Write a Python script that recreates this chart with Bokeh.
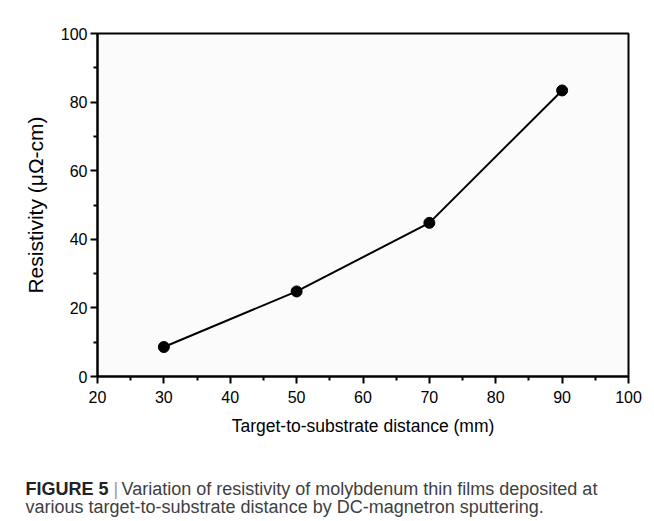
from bokeh.plotting import figure
from bokeh.models import Label, FixedTicker, Range1d
from bokeh.embed import file_html
from bokeh.resources import INLINE

distance = [30, 50, 70, 90]
resistivity = [8.6, 24.8, 44.8, 83.4]
x_ticks = [20, 30, 40, 50, 60, 70, 80, 90, 100]
x_minor = [25, 35, 45, 55, 65, 75, 85, 95]
y_ticks = [0, 20, 40, 60, 80, 100]
y_minor = [10, 30, 50, 70, 90]
caption_head = "FIGURE 5"
caption_line1 = "Variation of resistivity of molybdenum thin films deposited at"
caption_line2 = "various target-to-substrate distance by DC-magnetron sputtering."

W, H = 654, 521
FL, FT, FR, FB = 97, 33, 628, 376  # frame edges in page pixels

p = figure(width=W, height=H, output_backend="svg", toolbar_location=None,
           x_range=Range1d(20, 100), y_range=Range1d(0, 100),
           min_border_left=FL, min_border_right=W - FR, min_border_top=FT,
           min_border_bottom=H - FB)
p.grid.visible = False
p.outline_line_color = "black"
p.outline_line_width = 2
p.background_fill_color = "#fbfbfb"
p.border_fill_color = "white"

for ax in (p.xaxis[0], p.yaxis[0]):
    ax.axis_line_width = 2
    ax.major_tick_line_width = 2
    ax.minor_tick_line_width = 2
    ax.major_tick_out = 7
    ax.major_tick_in = 0
    ax.minor_tick_out = 4
    ax.minor_tick_in = 0
    ax.major_label_text_font = "Liberation Sans"
    ax.major_label_text_font_size = "16px"
    ax.major_label_text_color = "black"
    ax.axis_label_text_font = "Liberation Sans"
    ax.axis_label_text_font_style = "normal"
    ax.axis_label_text_color = "black"

p.xaxis[0].axis_label_text_font_size = "17.5px"
p.yaxis[0].axis_label_text_font_size = "21px"
p.xaxis[0].ticker = FixedTicker(ticks=x_ticks, minor_ticks=x_minor)
p.yaxis[0].ticker = FixedTicker(ticks=y_ticks, minor_ticks=y_minor)
p.xaxis[0].axis_label = "Target-to-substrate distance (mm)"
p.yaxis[0].axis_label = "Resistivity (\u03bc\u03a9-cm)"
p.xaxis[0].major_label_standoff = 7
p.xaxis[0].axis_label_standoff = 10
p.yaxis[0].major_label_standoff = 3
p.yaxis[0].axis_label_standoff = 11

p.line(distance, resistivity, line_color="black", line_width=2)
p.scatter(distance, resistivity, size=11, fill_color="black", line_color="black")

# caption, drawn in the panel below the plot
cap_font = "Liberation Sans"
LU = dict(x_units="canvas", y_units="canvas", text_baseline="bottom",
          text_font=cap_font, text_font_size="18px")
p.add_layout(Label(x=25, y=498, text=caption_head, text_font_style="bold",
                   text_color="#222222", **LU), "below")
p.add_layout(Label(x=113, y=498, text="|", text_color="#9a9a9a", **LU), "below")
p.add_layout(Label(x=121, y=498, text=caption_line1, text_color="#404040", **LU), "below")
p.add_layout(Label(x=25, y=516, text=caption_line2, text_color="#404040", **LU), "below")

open("out.html", "w").write(file_html(p, INLINE))
